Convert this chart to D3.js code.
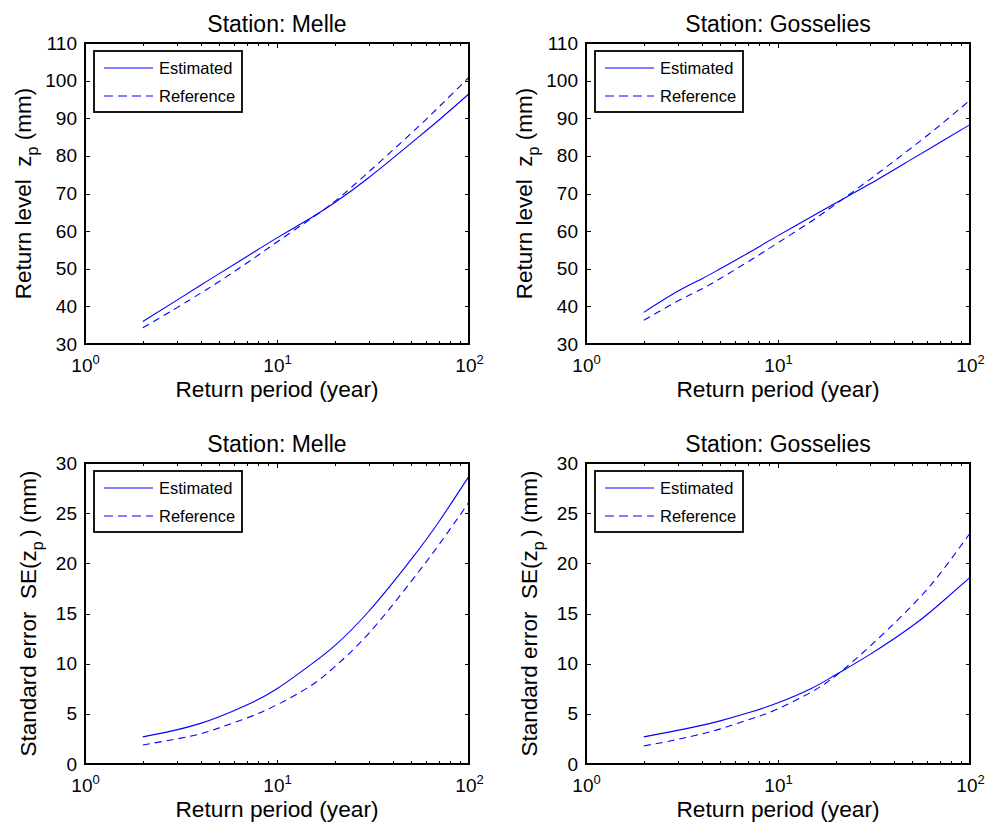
<!DOCTYPE html>
<html lang="en">
  <head>
    <meta charset="UTF-8" />
    <title>Return levels and standard errors: Melle and Gosselies</title>
    <script src="https://d3js.org/d3.v7.min.js"></script>
    <style>
      body {
        margin: 0;
        background: #fff;
      }
      svg {
        display: block;
        font-family: "Liberation Sans", Arial, Helvetica, sans-serif;
      }
      .tick line {
        stroke: #000;
        shape-rendering: crispEdges;
      }
      .tick text {
        fill: #000;
        font-size: 19px;
      }
      .frame {
        fill: none;
        stroke: #000;
        stroke-width: 1.3px;
        shape-rendering: crispEdges;
      }
      .series {
        fill: none;
        stroke: #0000ff;
        stroke-width: 1.1px;
      }
      .dashed {
        stroke-dasharray: 7, 5;
      }
    </style>
  </head>
  <body>
    <svg width="999" height="822"></svg>
    <script>
      // Return periods (years) at which the curves were read
      const returnPeriods = [2, 3, 4, 5, 7, 10, 15, 20, 30, 50, 70, 100];

      // Return level z_p (mm)
      const melleLevelEst = [36.0, 41.6, 45.6, 48.7, 53.3, 58.2, 63.5, 67.6, 74.2, 83.4, 89.6, 96.5];
      const melleLevelRef = [34.3, 39.6, 43.5, 46.6, 51.6, 57.1, 63.3, 67.9, 75.7, 86.0, 93.1, 100.9];
      const gossLevelEst = [38.4, 44.0, 47.3, 50.0, 54.2, 58.8, 63.9, 67.5, 72.5, 79.2, 83.6, 88.3];
      const gossLevelRef = [36.3, 41.4, 44.6, 47.4, 51.9, 56.9, 62.7, 67.2, 73.7, 82.3, 88.2, 94.8];

      // Standard error SE(z_p) (mm)
      const melleSeEst = [2.7, 3.4, 4.05, 4.7, 5.9, 7.5, 9.9, 11.8, 15.2, 20.4, 24.2, 28.7];
      const melleSeRef = [1.9, 2.5, 3.0, 3.6, 4.6, 5.9, 7.8, 9.7, 13.0, 18.2, 21.9, 26.1];
      const gossSeEst = [2.7, 3.35, 3.85, 4.3, 5.1, 6.1, 7.55, 8.9, 10.9, 13.75, 16.0, 18.6];
      const gossSeRef = [1.8, 2.45, 3.0, 3.5, 4.4, 5.5, 7.2, 8.8, 11.7, 15.8, 19.0, 23.0];

      // Ticks
      const xMajorTicks = [1, 10, 100];
      const xMinorTicks = [2, 3, 4, 5, 6, 7, 8, 9, 20, 30, 40, 50, 60, 70, 80, 90];
      const levelTicks = [30, 40, 50, 60, 70, 80, 90, 100, 110];
      const seTicks = [0, 5, 10, 15, 20, 25, 30];

      const seriesNames = ["Estimated", "Reference"];

      const panels = [
        { title: "Station: Melle", kind: "level", est: melleLevelEst, ref: melleLevelRef, col: 0, row: 0 },
        { title: "Station: Gosselies", kind: "level", est: gossLevelEst, ref: gossLevelRef, col: 1, row: 0 },
        { title: "Station: Melle", kind: "se", est: melleSeEst, ref: melleSeRef, col: 0, row: 1 },
        { title: "Station: Gosselies", kind: "se", est: gossSeEst, ref: gossSeRef, col: 1, row: 1 },
      ];

      // layout
      const colLeft = [85, 586];
      const rowTop = [43, 463];
      const plotW = 384,
        plotH = 301;
      const yLabelOffset = { level: 54, se: 49 };

      const svg = d3.select("svg");

      const x = d3.scaleLog().domain([1, 100]).range([0, plotW]);

      panels.forEach((p) => {
        const g = svg
          .append("g")
          .attr("transform", `translate(${colLeft[p.col]},${rowTop[p.row]})`);

        const ticks = p.kind === "level" ? levelTicks : seTicks;
        const y = d3
          .scaleLinear()
          .domain(d3.extent(ticks))
          .range([plotH, 0]);

        // bottom axis with 10^k labels
        const gx = g
          .append("g")
          .attr("transform", `translate(0,${plotH})`)
          .call(
            d3
              .axisBottom(x)
              .tickValues(xMajorTicks)
              .tickSizeInner(-4.5)
              .tickSizeOuter(0)
              .tickPadding(15)
              .tickFormat("")
          );
        gx.select(".domain").remove();
        gx.selectAll(".tick text").each(function (d) {
          const t = d3.select(this);
          t.append("tspan").text("10");
          t.append("tspan")
            .attr("dy", -8.5)
            .attr("font-size", 13)
            .text(Math.round(Math.log10(d)));
        });

        // minor log ticks, bottom and top
        g.append("g")
          .attr("transform", `translate(0,${plotH})`)
          .call(d3.axisBottom(x).tickValues(xMinorTicks).tickSize(-3).tickFormat(""))
          .select(".domain")
          .remove();
        g.append("g")
          .call(d3.axisTop(x).tickValues(xMinorTicks).tickSize(-3).tickFormat(""))
          .select(".domain")
          .remove();
        g.append("g")
          .call(d3.axisTop(x).tickValues(xMajorTicks).tickSize(-4.5).tickFormat(""))
          .select(".domain")
          .remove();

        // left and right axes
        g.append("g")
          .call(d3.axisLeft(y).tickValues(ticks).tickSize(-4.5).tickPadding(8))
          .select(".domain")
          .remove();
        g.append("g")
          .attr("transform", `translate(${plotW},0)`)
          .call(d3.axisRight(y).tickValues(ticks).tickSize(-4.5).tickFormat(""))
          .select(".domain")
          .remove();

        // curves
        const line = d3
          .line()
          .x((d, i) => x(returnPeriods[i]))
          .y((d) => y(d))
          .curve(d3.curveNatural);

        g.append("path").datum(p.est).attr("class", "series").attr("d", line);
        g.append("path").datum(p.ref).attr("class", "series dashed").attr("d", line);

        g.append("rect").attr("class", "frame").attr("width", plotW).attr("height", plotH);

        // legend
        const lg = g.append("g").attr("transform", "translate(9,8)");
        lg.append("rect")
          .attr("width", 148)
          .attr("height", 61)
          .attr("fill", "#fff")
          .attr("stroke", "#000")
          .attr("stroke-width", 1.8);
        seriesNames.forEach((name, i) => {
          const ly = 17 + i * 28;
          lg.append("line")
            .attr("class", "series")
            .attr("x1", 10)
            .attr("x2", 59)
            .attr("y1", ly)
            .attr("y2", ly)
            .attr("stroke-dasharray", i === 1 ? "9,5" : null);
          lg.append("text")
            .attr("x", 65)
            .attr("y", ly + 5.5)
            .attr("font-size", 16.5)
            .attr("fill", "#000")
            .text(name);
        });

        // title
        g.append("text")
          .attr("x", plotW / 2)
          .attr("y", -11)
          .attr("text-anchor", "middle")
          .attr("font-size", 23)
          .attr("fill", "#000")
          .text(p.title);

        // x label
        g.append("text")
          .attr("x", plotW / 2)
          .attr("y", plotH + 53)
          .attr("text-anchor", "middle")
          .attr("font-size", 22.7)
          .attr("fill", "#000")
          .text("Return period (year)");

        // y label with subscript p
        const yl = g
          .append("text")
          .attr(
            "transform",
            `translate(${-yLabelOffset[p.kind]},${plotH / 2}) rotate(-90)`
          )
          .attr("text-anchor", "middle")
          .attr("font-size", 22.5)
          .attr("fill", "#000");
        if (p.kind === "level") {
          yl.append("tspan").text("Return level\u00a0 z");
          yl.append("tspan").attr("dy", 7).attr("font-size", 16).text("p");
          yl.append("tspan").attr("dy", -7).text(" (mm)");
        } else {
          yl.append("tspan").text("Standard error\u00a0 SE(z");
          yl.append("tspan").attr("dy", 7).attr("font-size", 16).text("p");
          yl.append("tspan").attr("dy", -7).text("\u2009) (mm)");
        }
      });
    </script>
  </body>
</html>
